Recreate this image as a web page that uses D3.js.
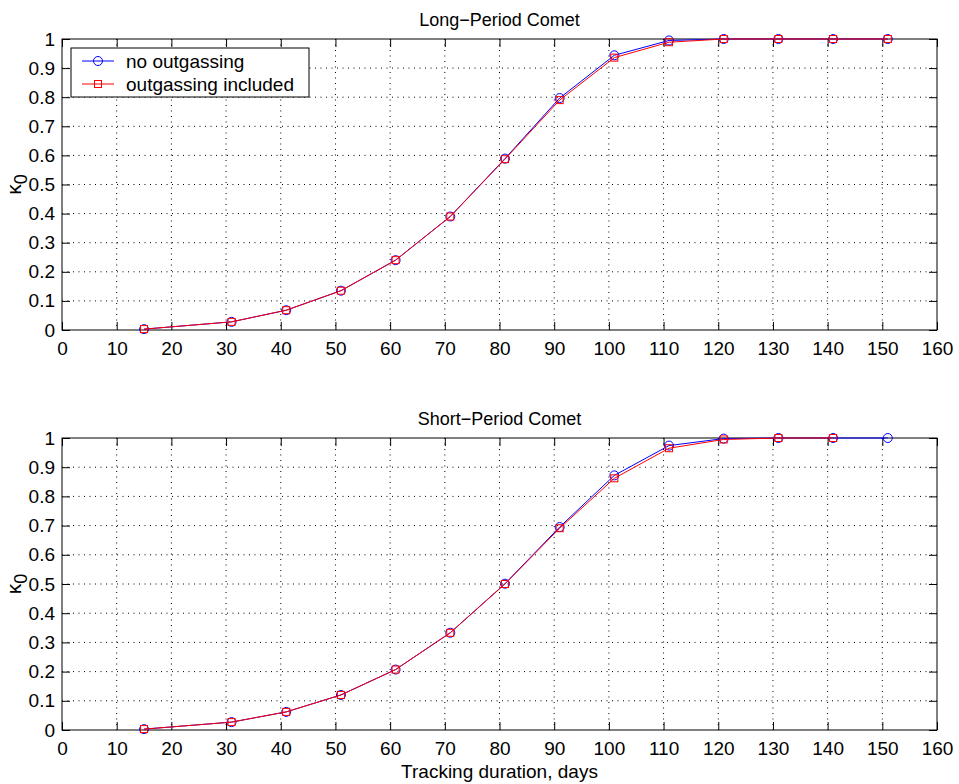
<!DOCTYPE html>
<html>
<head>
<meta charset="utf-8">
<style>
  body { margin: 0; background: #fff; }
  svg { font-family: "Liberation Sans", Arial, sans-serif; }
  .grid line { stroke: #000; stroke-width: 1; stroke-dasharray: 1 4.5; }
</style>
</head>
<body>
<svg width="959" height="784"></svg>
<script src="https://d3js.org/d3.v7.min.js"></script>
<script>
// tracking durations (days)
var days = [15, 31, 41, 51, 61, 71, 81, 91, 101, 111, 121, 131, 141, 151];

// long-period comet
var longNoOut  = [0.003, 0.028, 0.068, 0.135, 0.24, 0.39, 0.589, 0.797, 0.944, 0.995, 1.0, 1.0, 1.0, 1.0];
var longOut    = [0.003, 0.028, 0.068, 0.135, 0.24, 0.39, 0.587, 0.790, 0.936, 0.989, 1.0, 1.0, 1.0, 1.0];

// short-period comet (red series stops at 141)
var shortNoOut = [0.003, 0.027, 0.062, 0.12, 0.207, 0.333, 0.501, 0.695, 0.872, 0.974, 0.998, 1.0, 1.0, 1.0];
var shortOut   = [0.003, 0.027, 0.062, 0.12, 0.207, 0.333, 0.500, 0.691, 0.862, 0.965, 0.995, 1.0, 1.0];

var xTicks = d3.range(0, 161, 10);
var yTicks = d3.range(0, 1.01, 0.1).map(function(v) { return Math.round(v * 10) / 10; });

var svg = d3.select("svg");
var left = 62, right = 937;

var x = d3.scaleLinear().domain([0, 160]).range([left, right]);

function panel(top, bottom, title, blue, red, showLegend) {
  var y = d3.scaleLinear().domain([0, 1]).range([bottom, top]);
  var g = svg.append("g");

  // grid
  var grid = g.append("g").attr("class", "grid");
  grid.selectAll(".gx").data(xTicks.slice(1, -1)).enter().append("line")
    .attr("x1", function(d) { return x(d); }).attr("x2", function(d) { return x(d); })
    .attr("y1", top).attr("y2", bottom);
  grid.selectAll(".gy").data(yTicks.slice(1, -1)).enter().append("line")
    .attr("y1", function(d) { return y(d); }).attr("y2", function(d) { return y(d); })
    .attr("x1", left).attr("x2", right);

  // axes, ticks inward
  var tl = 8;
  g.append("g").attr("transform", "translate(0," + bottom + ")")
    .call(d3.axisBottom(x).tickValues(xTicks).tickSize(-tl).tickPadding(12).tickFormat(d3.format("d")));
  g.append("g").attr("transform", "translate(0," + top + ")")
    .call(d3.axisTop(x).tickValues(xTicks).tickSize(-tl).tickFormat(""));
  g.append("g").attr("transform", "translate(" + left + ",0)")
    .call(d3.axisLeft(y).tickValues(yTicks).tickSize(-tl).tickPadding(7).tickFormat(function(d) { return d === 0 || d === 1 ? d : d3.format(".1f")(d); }));
  g.append("g").attr("transform", "translate(" + right + ",0)")
    .call(d3.axisRight(y).tickValues(yTicks).tickSize(-tl).tickFormat(""));
  g.selectAll(".domain").remove();
  g.selectAll(".tick line").attr("stroke", "#000");
  g.selectAll(".tick text").style("font-size", "19px").attr("fill", "#000")
    .style("font-family", "Liberation Sans, Arial, sans-serif");
  g.append("rect").attr("x", left).attr("y", top).attr("width", right - left).attr("height", bottom - top)
    .attr("fill", "none").attr("stroke", "#000").attr("stroke-width", 1);

  // title
  g.append("text").attr("x", (left + right) / 2).attr("y", top - 13)
    .attr("text-anchor", "middle").style("font-size", "18px").text(title);

  // y label
  var yl = g.append("text").attr("transform", "translate(21," + ((top + bottom) / 2) + ") rotate(-90)")
    .attr("text-anchor", "middle").style("font-size", "21px");
  yl.append("tspan").text("\u03ba");
  yl.append("tspan").attr("dy", 6).style("font-size", "18px").text("0");

  var line = d3.line().x(function(d) { return x(d[0]); }).y(function(d) { return y(d[1]); });
  var bData = blue.map(function(v, i) { return [days[i], v]; });
  var rData = red.map(function(v, i) { return [days[i], v]; });

  g.append("path").datum(bData).attr("d", line).attr("fill", "none").attr("stroke", "#0000ff").attr("stroke-width", 1);
  g.selectAll(".bc").data(bData).enter().append("circle")
    .attr("cx", function(d) { return x(d[0]); }).attr("cy", function(d) { return y(d[1]); })
    .attr("r", 4.5).attr("fill", "none").attr("stroke", "#0000ff");
  g.append("path").datum(rData).attr("d", line).attr("fill", "none").attr("stroke", "#ff0000").attr("stroke-width", 1);
  g.selectAll(".rs").data(rData).enter().append("rect")
    .attr("x", function(d) { return x(d[0]) - 3.5; }).attr("y", function(d) { return y(d[1]) - 3.5; })
    .attr("width", 7).attr("height", 7).attr("fill", "none").attr("stroke", "#ff0000");

  if (showLegend) {
    var lg = g.append("g");
    lg.append("rect").attr("x", 71).attr("y", 48).attr("width", 238).attr("height", 49)
      .attr("fill", "#fff").attr("stroke", "#000");
    var items = [["no outgassing", "#0000ff", "c"], ["outgassing included", "#ff0000", "s"]];
    items.forEach(function(it, i) {
      var cy = 61 + i * 23;
      lg.append("line").attr("x1", 82).attr("x2", 114).attr("y1", cy).attr("y2", cy).attr("stroke", it[1]);
      if (it[2] === "c") {
        lg.append("circle").attr("cx", 98).attr("cy", cy).attr("r", 4.5).attr("fill", "none").attr("stroke", it[1]);
      } else {
        lg.append("rect").attr("x", 94.5).attr("y", cy - 3.5).attr("width", 7).attr("height", 7).attr("fill", "none").attr("stroke", it[1]);
      }
      lg.append("text").attr("x", 126).attr("y", cy + 7).style("font-size", "19px").text(it[0]);
    });
  }
}

panel(39, 330, "Long\u2212Period Comet", longNoOut, longOut, true);
panel(438, 730, "Short\u2212Period Comet", shortNoOut, shortOut, false);

svg.append("text").attr("x", (left + right) / 2).attr("y", 778).attr("text-anchor", "middle")
  .style("font-size", "19px").text("Tracking duration, days");
</script>
</body>
</html>
